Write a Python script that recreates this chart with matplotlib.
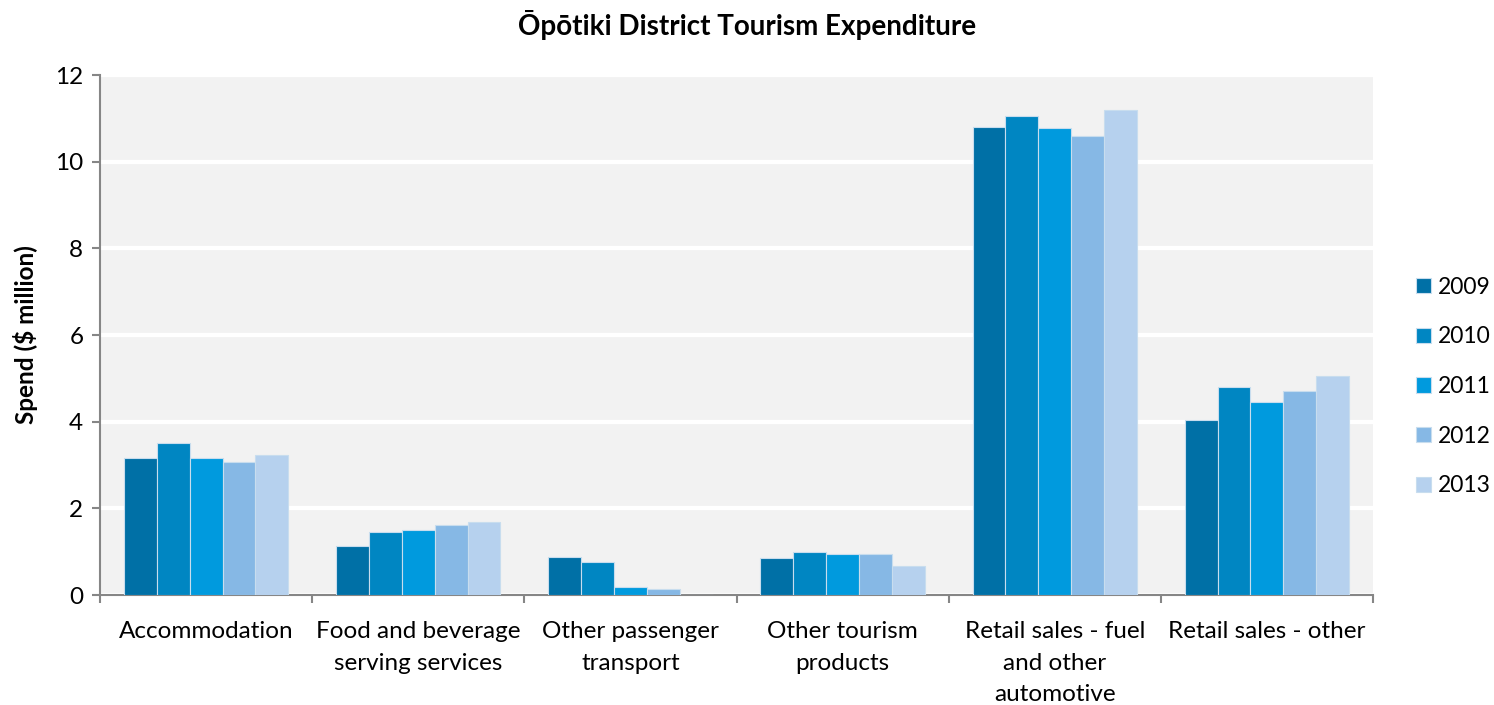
import numpy as np
import matplotlib.pyplot as plt

plt.rcParams['font.family'] = ['Lato', 'DejaVu Sans']

categories = ["Accommodation", "Food and beverage\nserving services", "Other passenger\ntransport",
              "Other tourism\nproducts", "Retail sales - fuel\nand other\nautomotive", "Retail sales - other"]
years = ["2009", "2010", "2011", "2012", "2013"]
spend = {
    "2009": [3.16, 1.13, 0.88, 0.85, 10.80, 4.04],
    "2010": [3.50, 1.45, 0.76, 1.00, 11.05, 4.80],
    "2011": [3.16, 1.50, 0.18, 0.95, 10.78, 4.45],
    "2012": [3.07, 1.62, 0.14, 0.95, 10.60, 4.70],
    "2013": [3.23, 1.68, 0.00, 0.67, 11.20, 5.05],
}
colors = ["#0070A6", "#0086C2", "#009ADE", "#86B8E5", "#B6D1EE"]

fig = plt.figure(figsize=(14.94, 7.05), dpi=100)
ax = fig.add_axes([100 / 1494, 1 - 595 / 705, 1273 / 1494, 520 / 705])
ax.set_facecolor("#F2F2F2")

x = np.arange(len(categories))
w = 0.155
for i, yr in enumerate(years):
    ax.bar(x + (i - 2) * w, spend[yr], width=w, color=colors[i],
           edgecolor="#C8DDEE", linewidth=0.8, label=yr, zorder=3)

ax.set_xlim(-0.5, len(categories) - 0.5)
ax.set_ylim(0, 12)
ax.set_yticks(np.arange(0, 13, 2))
ax.yaxis.grid(True, color="white", linewidth=3, zorder=1)
ax.set_axisbelow(True)

ax.set_xticks(x)
ax.set_xticklabels(categories, fontsize=17.5, linespacing=1.62, va="top")
ax.set_xticks(np.arange(-0.5, len(categories)), minor=True)
ax.tick_params(axis="x", which="major", length=0, pad=19)
ax.tick_params(axis="x", which="minor", length=6, color="#868686", width=1.5)
ax.tick_params(axis="y", length=6, color="#868686", width=1.5, labelsize=17.5, pad=6)

for s in ["top", "right"]:
    ax.spines[s].set_visible(False)
for s in ["left", "bottom"]:
    ax.spines[s].set_color("#868686")
    ax.spines[s].set_linewidth(1.5)

ax.set_ylabel("Spend ($ million)", fontsize=17.5, fontweight="bold", labelpad=12)
fig.text(0.5, 1 - 25 / 705, "Ōpōtiki District Tourism Expenditure", ha="center", va="center",
         fontsize=20, fontweight="bold")

ax.legend(loc="center left", bbox_to_anchor=(1.034, 0.401), frameon=False, fontsize=16.5,
          handlelength=0.65, handleheight=0.65, handletextpad=0.3, labelspacing=1.25,
          borderpad=0, borderaxespad=0)

fig.savefig("out.png", dpi=100)
